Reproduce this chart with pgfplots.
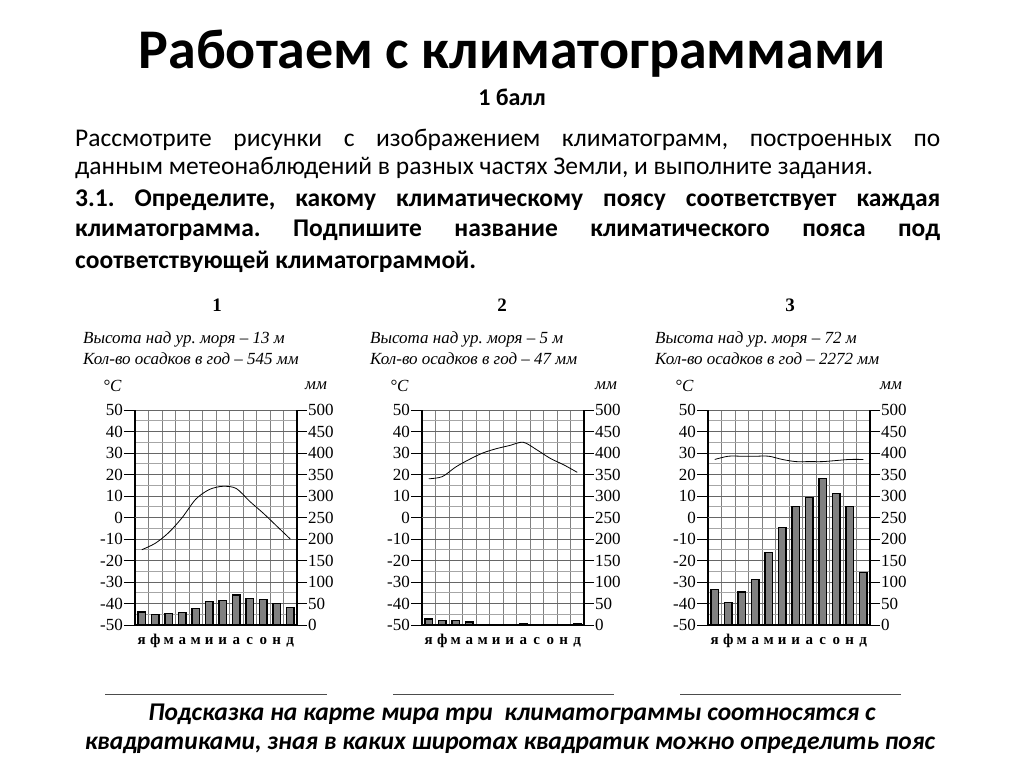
\documentclass[border=0pt]{standalone}
\usepackage{fontspec}
\setmainfont{Carlito}
\newfontfamily\chartfont{Liberation Serif}
\usepackage{pgfplots}
\pgfplotsset{compat=1.18}
\frenchspacing

\pgfplotsset{
  clim temp/.style={
    at={#1}, anchor=south west, scale only axis, width=162pt, height=215pt,
    xmin=0.5, xmax=12.5, ymin=-50, ymax=50,
    axis x line*=bottom, axis y line*=left,
    axis line style={black, line width=1.1pt},
    xtick={1,...,12},
    xticklabels={я,ф,м,а,м,и,и,а,с,о,н,д},
    xticklabel style={font=\chartfont\bfseries\fontsize{15}{15}\selectfont, inner sep=1pt, text height=1.6ex, text depth=0pt},
    major x tick style={draw=none},
    minor xtick={0.5,1.5,...,12.5},
    xminorgrids,
    minor x grid style={black!50, line width=0.8pt},
    ytick={-50,-40,...,50},
    minor ytick={-45,-35,...,45},
    ymajorgrids, yminorgrids,
    major y grid style={black!60, line width=0.9pt},
    minor y grid style={black!35, line width=0.7pt},
    tick align=outside, major tick length=11pt, minor tick length=0pt,
    ytick style={black, line width=0.9pt},
    yticklabel style={font=\chartfont\fontsize{17}{17}\selectfont, inner sep=1pt},
    /pgf/number format/assume math mode=true,
    extra y ticks={0}, extra y tick labels={},
    extra y tick style={grid=major, major grid style={black, line width=1.1pt}, major tick length=0pt},
  },
  clim prec/.style={
    at={#1}, anchor=south west, scale only axis, width=162pt, height=215pt,
    xmin=0.5, xmax=12.5, ymin=0, ymax=500,
    axis x line=none, axis y line*=right,
    axis line style={black, line width=1.1pt},
    ytick={0,50,...,500},
    tick align=outside, major tick length=10pt,
    ytick style={black, line width=0.9pt},
    yticklabel style={font=\chartfont\fontsize{17}{17}\selectfont, inner sep=1pt},
    /pgf/number format/assume math mode=true,
    ybar, bar width=0.55,
  },
  tline/.style={black, line width=0.8pt, smooth, no marks},
  pbar/.style={fill=black!50, draw=black, line width=1.3pt},
}

\begin{document}
\begin{tikzpicture}
\path[use as bounding box] (0pt,0pt) rectangle (1024pt,767pt);

% header
\node[font=\bfseries\fontsize{56}{60}\selectfont] at (512pt,713pt) {Работаем с климатограммами};
\node[font=\bfseries\fontsize{24}{26}\selectfont] at (512pt,670pt) {1 балл};
\begin{scope}[every node/.style={anchor=west, inner sep=0pt, font=\fontsize{25.5}{28}\selectfont}]
\node at (75pt,627pt) {\makebox[865pt][s]{Рассмотрите рисунки с изображением климатограмм, построенных по}};
\node at (75pt,599pt) {данным метеонаблюдений в разных частях Земли, и выполните задания.};
\node[font=\bfseries\fontsize{25.5}{28}\selectfont] at (75pt,567pt) {\makebox[865pt][s]{3.1. Определите, какому климатическому поясу соответствует каждая}};
\node[font=\bfseries\fontsize{25.5}{28}\selectfont] at (75pt,537pt) {\makebox[865pt][s]{климатограмма. Подпишите название климатического пояса под}};
\node[font=\bfseries\fontsize{25.5}{28}\selectfont] at (75pt,505pt) {соответствующей климатограммой.};
\end{scope}

% chart captions
\begin{scope}[every node/.style={inner sep=0pt, font=\chartfont\itshape\fontsize{17}{17}\selectfont}]
\node[font=\chartfont\bfseries\fontsize{19}{19}\selectfont] at (217pt,462pt) {1};
\node[anchor=west] at (83pt,428pt) {Высота над ур. моря – 13 м};
\node[anchor=west] at (83pt,408pt) {Кол-во осадков в год – 545 мм};
\node[anchor=west] at (103pt,381pt) {°C};
\node[anchor=west] at (305pt,381pt) {мм};

\node[font=\chartfont\bfseries\fontsize{19}{19}\selectfont] at (502pt,462pt) {2};
\node[anchor=west] at (370pt,428pt) {Высота над ур. моря – 5 м};
\node[anchor=west] at (370pt,408pt) {Кол-во осадков в год – 47 мм};
\node[anchor=west] at (390pt,381pt) {°C};
\node[anchor=west] at (595pt,381pt) {мм};

\node[font=\chartfont\bfseries\fontsize{19}{19}\selectfont] at (790pt,462pt) {3};
\node[anchor=west] at (655pt,428pt) {Высота над ур. моря – 72 м};
\node[anchor=west] at (655pt,408pt) {Кол-во осадков в год – 2272 мм};
\node[anchor=west] at (675pt,381pt) {°C};
\node[anchor=west] at (880pt,381pt) {мм};
\end{scope}

% chart 1
\begin{axis}[clim temp={(135pt,142pt)}]
\addplot[tline] coordinates {(1,-15) (2,-12) (3,-7) (4,0) (5,8.5) (6,13) (7,14.5) (8,13.5) (9,7.5) (10,2) (11,-4) (12,-10)};
\end{axis}
\begin{axis}[clim prec={(135pt,142pt)}]
\addplot[pbar] coordinates {(1,30) (2,25) (3,27) (4,29) (5,39) (6,55) (7,57) (8,70) (9,61) (10,60) (11,50) (12,40)};
\end{axis}

% chart 2
\begin{axis}[clim temp={(422pt,142pt)}]
\addplot[tline] coordinates {(1,18) (2,19) (3,23.5) (4,27) (5,30) (6,32) (7,33.5) (8,35) (9,31.5) (10,27.5) (11,24.5) (12,21)};
\end{axis}
\begin{axis}[clim prec={(422pt,142pt)}]
\addplot[pbar] coordinates {(1,14) (2,11) (3,10) (4,7) (5,1) (6,1) (7,1) (8,3) (9,1) (10,1) (11,1) (12,2)};
\end{axis}

% chart 3
\begin{axis}[clim temp={(708pt,142pt)}]
\addplot[tline] coordinates {(1,27) (2,28.5) (3,28.5) (4,28.5) (5,28.5) (6,27) (7,26) (8,26) (9,26) (10,26.5) (11,27) (12,27)};
\end{axis}
\begin{axis}[clim prec={(708pt,142pt)}]
\addplot[pbar] coordinates {(1,83) (2,52) (3,77) (4,106) (5,168) (6,226) (7,276) (8,297) (9,341) (10,306) (11,275) (12,122)};
\end{axis}

% answer lines
\draw[black!70, line width=0.8pt] (105pt,73pt) -- (327pt,73pt);
\draw[black!70, line width=0.8pt] (393pt,73pt) -- (614pt,73pt);
\draw[black!70, line width=0.8pt] (680pt,73pt) -- (901pt,73pt);

% hint
\node[font=\bfseries\itshape\fontsize{25.5}{28}\selectfont] at (512pt,53pt) {Подсказка на карте мира три\ \ климатограммы соотносятся с};
\node[font=\bfseries\itshape\fontsize{25.5}{28}\selectfont] at (510pt,22pt) {квадратиками, зная в каких широтах квадратик можно определить пояс};
\end{tikzpicture}
\end{document}
